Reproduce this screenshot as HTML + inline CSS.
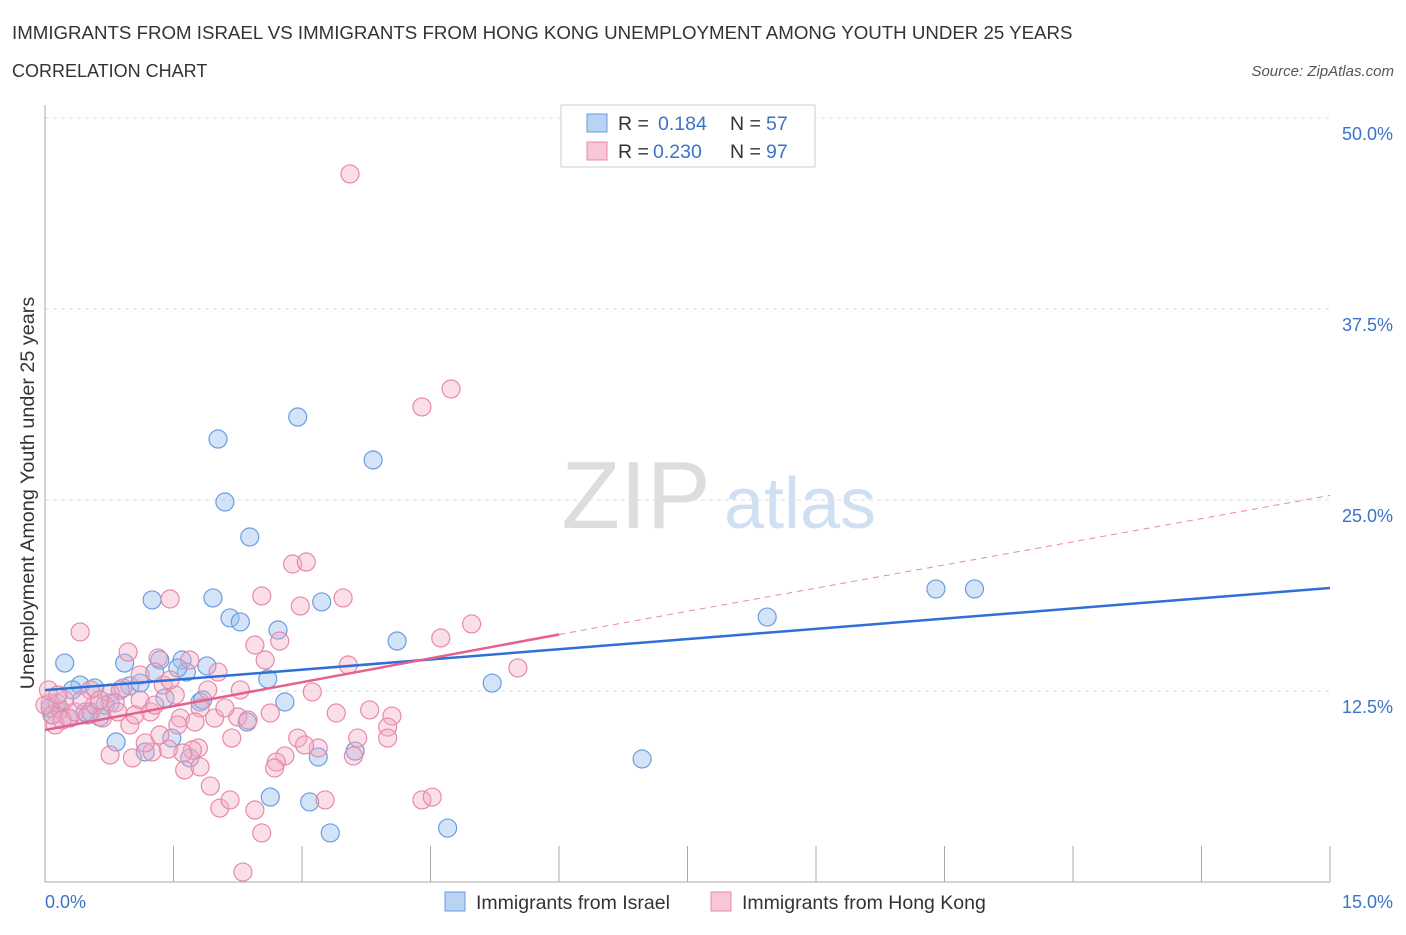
<!DOCTYPE html>
<html><head><meta charset="utf-8">
<style>
body{margin:0;background:#fff;font-family:"Liberation Sans",sans-serif;}
svg text{font-family:"Liberation Sans",sans-serif;}
</style></head>
<body>
<svg id="chart" width="1406" height="930" viewBox="0 0 1406 930">
<text x="12" y="39" font-size="18.7" fill="#333">IMMIGRANTS FROM ISRAEL VS IMMIGRANTS FROM HONG KONG UNEMPLOYMENT AMONG YOUTH UNDER 25 YEARS</text>
<text x="12" y="77" font-size="18" fill="#333">CORRELATION CHART</text>
<text x="1394" y="76" font-size="15" fill="#555" font-style="italic" text-anchor="end">Source: ZipAtlas.com</text>
<text x="636" y="528" font-size="96" fill="#ddd" font-family="Liberation Serif" text-anchor="middle">ZIP</text>
<text x="800" y="528" font-size="72" fill="#cfe0f3" text-anchor="middle">atlas</text>
<text transform="translate(34,493) rotate(-90)" font-size="19.8" fill="#333" text-anchor="middle">Unemployment Among Youth under 25 years</text>
<g id="grid"></g>
<g id="axes"></g>
<g id="pts"></g>
<g id="lines"></g>
<g>
<rect x="561" y="105" width="254" height="62" fill="#fff" stroke="#ccc"/>
<rect x="587" y="114" width="20" height="18" fill="#b9d3f5" stroke="#6a9de0"/>
<rect x="587" y="142" width="20" height="18" fill="#f9c6d6" stroke="#e889a8"/>
<text x="618" y="130" font-size="19.5" fill="#333">R = </text><text x="658" y="130" font-size="19.5" fill="#3b73c9">0.184</text>
<text x="730" y="130" font-size="19.5" fill="#333">N = </text><text x="766" y="130" font-size="19.5" fill="#3b73c9">57</text>
<text x="618" y="158" font-size="19.5" fill="#333">R = </text><text x="653" y="158" font-size="19.5" fill="#3b73c9">0.230</text>
<text x="730" y="158" font-size="19.5" fill="#333">N = </text><text x="766" y="158" font-size="19.5" fill="#3b73c9">97</text>
</g>
<g>
<rect x="445" y="892" width="20" height="19" fill="#b9d3f5" stroke="#6a9de0"/>
<text x="476" y="909" font-size="19.5" fill="#333">Immigrants from Israel</text>
<rect x="711" y="892" width="20" height="19" fill="#f9c6d6" stroke="#e889a8"/>
<text x="742" y="909" font-size="19.5" fill="#333">Immigrants from Hong Kong</text>
</g>
</svg>
<script>
const yTicks=[12.5,25,37.5,50];
const yTickLabels=["12.5%","25.0%","37.5%","50.0%"];
const xTickVals=[0,1.5,3,4.5,6,7.5,9,10.5,12,13.5,15];
const israelX=[0.23,0.41,0.58,0.76,0.93,0.99,1.11,1.25,1.34,1.40,1.48,1.60,1.65,1.81,1.89,1.96,2.02,2.10,2.16,2.28,2.39,2.60,2.63,2.72,2.80,2.95,3.09,3.19,3.23,3.33,3.62,3.83,4.11,4.70,5.22,6.97,8.43,10.40,10.85,0.83,1.17,1.69,2.36,0.09,0.18,0.32,0.47,0.64,0.06,0.14,0.27,0.53,0.70,0.88,1.55,1.28,1.84];
const israelY=[14.33,12.89,12.70,11.72,14.33,12.83,13.02,18.46,14.53,12.04,9.42,14.53,13.74,11.78,14.14,18.59,28.99,24.87,17.28,17.02,22.58,13.29,5.56,16.49,11.78,30.43,5.24,8.18,18.33,3.21,8.57,27.62,15.77,3.53,13.02,8.05,17.34,19.18,19.18,9.16,8.51,8.12,10.47,10.93,11.26,12.57,11.13,10.80,11.39,11.72,10.73,11.13,11.58,12.57,14.01,13.74,11.91];
const hkX=[3.56,4.74,4.40,2.89,3.05,1.46,2.53,2.98,3.48,4.98,4.62,5.52,0.41,0.97,1.32,1.69,2.02,2.57,3.54,2.74,2.45,0.76,0.91,1.11,1.38,1.52,1.81,1.98,2.25,2.63,3.12,3.40,4.05,4.00,4.00,3.65,3.19,2.95,2.80,2.70,2.68,2.18,1.79,1.72,1.61,1.44,1.25,1.17,1.02,0.76,1.63,1.81,1.93,2.04,2.16,2.45,2.53,2.31,3.27,4.40,4.52,3.60,0.18,0.29,0.06,0.12,0.23,0.35,0.50,0.58,0.67,0.82,0.85,0.99,1.11,1.23,1.28,1.58,1.90,1.55,2.10,2.37,1.34,0.53,0.64,0.08,0.20,0.43,0.00,0.04,0.15,1.05,1.46,1.75,2.28,3.03,3.79];
const hkY=[46.34,32.27,31.09,20.81,20.94,18.52,18.72,18.06,18.59,16.89,15.97,14.01,16.36,15.05,14.66,14.53,13.74,14.53,14.20,15.77,15.51,12.37,12.70,13.55,12.89,12.24,11.39,10.73,10.80,11.06,12.44,11.06,10.86,10.14,9.42,9.42,8.77,9.42,8.25,7.85,7.46,9.42,8.77,8.64,8.44,8.70,8.51,9.10,8.12,8.31,7.33,7.53,6.28,4.84,5.37,4.71,3.21,0.65,5.37,5.37,5.56,8.25,11.26,10.73,11.72,10.28,11.91,11.13,10.93,11.58,10.73,11.72,11.13,10.28,11.91,11.13,11.58,10.73,12.57,10.28,11.39,10.60,9.62,12.57,11.91,10.93,10.60,11.91,11.58,12.57,12.24,10.93,13.22,10.47,12.57,8.97,11.26];
const israelFit=[12.56,19.24];
const hkFit=[9.95,16.2,25.3];
const NS="http://www.w3.org/2000/svg";
const sx=v=>45+v*(1285/15);
const sy=v=>882-v*(764/50);
function mk(tag,attrs,parent){const e=document.createElementNS(NS,tag);for(const k in attrs)e.setAttribute(k,attrs[k]);parent.appendChild(e);return e;}
const grid=document.getElementById('grid'),axes=document.getElementById('axes'),pts=document.getElementById('pts'),lines=document.getElementById('lines');
yTicks.forEach((t,i)=>{
 const g=mk('line',{x1:45,x2:1330,y1:sy(t),y2:sy(t),stroke:'#ddd','stroke-dasharray':'4,4'},grid);
 
 
 const tx=mk('text',{x:1393,y:sy(t)+22,'font-size':18,fill:'#3b73c9','text-anchor':'end'},axes);
 tx.textContent=yTickLabels[i];
 
 
});
const ax=mk('line',{x1:45,x2:45,y1:105,y2:882,stroke:'#aaa'},axes);


const bx=mk('line',{x1:45,x2:1330,y1:882,y2:882,stroke:'#aaa'},axes);


xTickVals.forEach(v=>{
 const t=mk('line',{x1:sx(v),x2:sx(v),y1:846,y2:882,stroke:'#aaa'},axes);
 
 
});
const xl=mk('text',{x:45,y:908,'font-size':18,fill:'#3b73c9'},axes);xl.textContent='0.0%';


const xr=mk('text',{x:1393,y:908,'font-size':18,fill:'#3b73c9','text-anchor':'end'},axes);xr.textContent='15.0%';


israelX.forEach((x,i)=>{
 const c=mk('circle',{cx:sx(x),cy:sy(israelY[i]),r:9,fill:'rgba(160,195,240,0.45)',stroke:'#6a9de0','stroke-width':1.2},pts);
 
 
});
hkX.forEach((x,i)=>{
 const c=mk('circle',{cx:sx(x),cy:sy(hkY[i]),r:9,fill:'rgba(245,170,195,0.38)',stroke:'#e889a8','stroke-width':1.2},pts);
 
 
});
const l1=mk('line',{x1:sx(0),y1:sy(israelFit[0]),x2:sx(15),y2:sy(israelFit[1]),stroke:'#2f6fd6','stroke-width':2.5},lines);


const l2=mk('line',{x1:sx(0),y1:sy(hkFit[0]),x2:sx(6),y2:sy(hkFit[1]),stroke:'#e5608e','stroke-width':2.5},lines);


const l3=mk('line',{x1:sx(6),y1:sy(hkFit[1]),x2:sx(15),y2:sy(hkFit[2]),stroke:'#e889a8','stroke-width':1,'stroke-dasharray':'6,5'},lines);


</script>
</body></html>
